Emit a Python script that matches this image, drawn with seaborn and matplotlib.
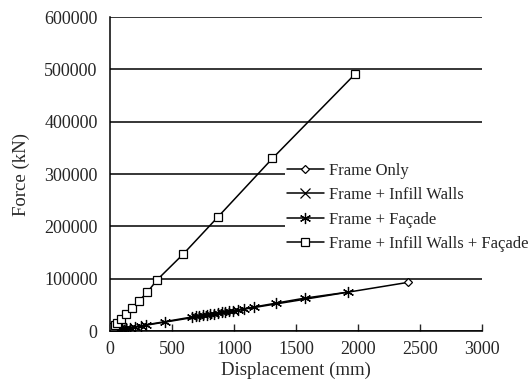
import seaborn as sns
import matplotlib.pyplot as plt

# pushover curves (displacement mm, force kN)
frame_only_x = [0, 10, 25, 45, 2400]
frame_only_y = [0, 400, 1000, 1800, 93000]

infill_x = [0, 8, 18, 30, 45, 60, 80, 100, 125]
infill_y = [0, 300, 700, 1200, 1800, 2400, 3100, 3900, 4900]

facade_x = [0, 15, 30, 50, 75, 100, 130, 160, 200, 250, 290, 440,
            660, 690, 720, 750, 780, 810, 840, 870, 900, 930, 960, 990, 1030,
            1080, 1160, 1340, 1570, 1920]
facade_y = [0, 600, 1200, 2000, 3000, 4000, 5200, 6400, 8000, 10000, 12000, 18000,
            27000, 28000, 29500, 30500, 31500, 32500, 33500, 34800, 35800, 37000,
            38000, 39000, 40500, 42500, 46000, 53500, 63000, 74600]

full_x = [0, 10, 25, 40, 60, 90, 130, 180, 230, 300, 380, 590, 870, 1310, 1980]
full_y = [0, 3000, 7000, 11000, 16000, 23000, 33000, 45000, 57000, 74000, 98000,
          147000, 218000, 330000, 492000]

series = [
    ("Frame Only", frame_only_x, frame_only_y, dict(marker="D", ms=4.5, mfc="white")),
    ("Frame + Infill Walls", infill_x, infill_y, dict(marker="x", ms=7)),
    ("Frame + Façade", facade_x, facade_y, dict(marker=(6, 2, 0), ms=8)),
    ("Frame + Infill Walls + Façade", full_x, full_y, dict(marker="s", ms=5.5, mfc="white")),
]

sns.set_style("white")
plt.rcParams["font.family"] = ["Liberation Serif", "DejaVu Serif"]

fig = plt.figure(figsize=(5.32, 3.9), dpi=100)
ax = fig.add_axes([0.2068, 0.151, 0.699, 0.805])

for name, xs, ys, kw in series:
    sns.lineplot(x=xs, y=ys, ax=ax, color="black", lw=1.1, sort=False,
                 mec="black", mew=0.9, label=name, **kw)

ax.set_xlim(0, 3000)
ax.set_ylim(0, 600000)
ax.set_xticks(range(0, 3001, 500))
ax.set_yticks(range(0, 600001, 100000))
ax.yaxis.grid(True, color="black", lw=1.1)
ax.xaxis.grid(False)
for s in ["top", "right"]:
    ax.spines[s].set_visible(False)
for s in ["left", "bottom"]:
    ax.spines[s].set_color("black")
    ax.spines[s].set_linewidth(1.1)
ax.tick_params(axis="x", direction="in", length=5, width=1, labelsize=13, bottom=True, pad=7)
ax.tick_params(axis="y", direction="in", length=0, labelsize=13, pad=9)
ax.set_xlabel("Displacement (mm)", fontsize=13.5, labelpad=3)
ax.set_ylabel("Force (kN)", fontsize=13.5, labelpad=10)

leg = ax.legend(loc="upper left", bbox_to_anchor=(0.471, 0.541), frameon=True,
                fontsize=12, handlelength=2.2, handletextpad=0.3, labelspacing=0.5,
                borderaxespad=0, borderpad=0.1, fancybox=False)
leg.get_frame().set_facecolor("white")
leg.get_frame().set_edgecolor("none")
leg.get_frame().set_alpha(1)

fig.savefig("out.png", dpi=100)
